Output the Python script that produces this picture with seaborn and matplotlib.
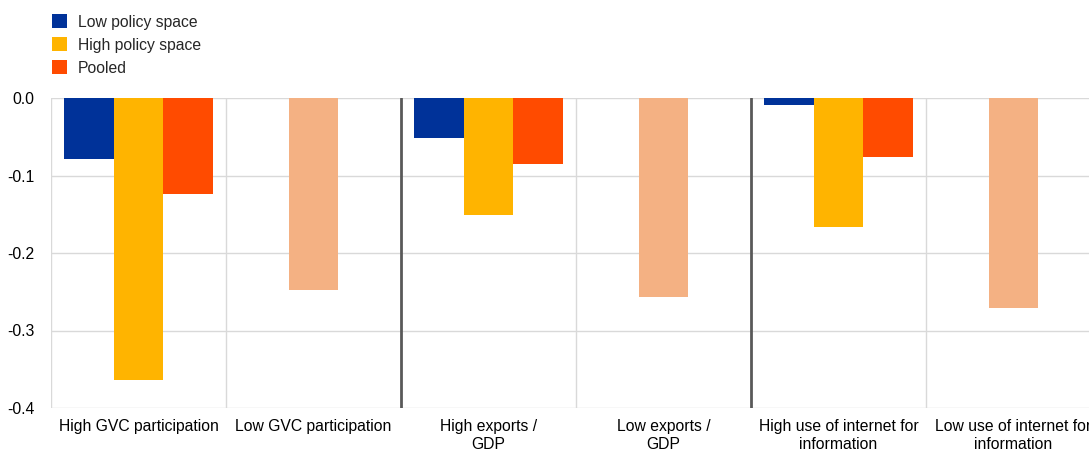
import matplotlib
matplotlib.use("Agg")
import matplotlib.pyplot as plt
from matplotlib.patches import Patch
from matplotlib.ticker import FuncFormatter, FixedLocator
import seaborn as sns
import pandas as pd
import numpy as np

categories = ["High GVC participation", "Low GVC participation",
              "High exports /\nGDP", "Low exports /\nGDP",
              "High use of internet for\ninformation", "Low use of internet for\ninformation"]
series = ["Low policy space", "High policy space", "Pooled"]
low_policy = [-0.079, np.nan, -0.052, np.nan, -0.009, np.nan]
high_policy = [-0.364, np.nan, -0.151, np.nan, -0.166, np.nan]
pooled = [-0.124, -0.248, -0.085, -0.257, -0.076, -0.271]

colors = {"Low policy space": "#003299", "High policy space": "#FFB400", "Pooled": "#FF4B00"}
pooled_low_color = "#F4B183"

rows = []
for i, c in enumerate(categories):
    is_low = (i % 2 == 1)
    for s, vals in zip(series, [low_policy, high_policy, pooled]):
        v = vals[i]
        # in "Low" categories the single pooled bar sits in the middle slot
        slot = s
        if is_low:
            if s == "Pooled":
                slot = "High policy space"
            elif s == "High policy space":
                continue
        rows.append({"category": c, "slot": slot, "value": v})
df = pd.DataFrame(rows)

sns.set_style("white")
plt.rcParams["font.family"] = ["Liberation Sans", "DejaVu Sans"]

FS = 11.3

fig = plt.figure(figsize=(10.89, 4.5), dpi=100)
ax = fig.add_axes([51 / 1089, 1 - 408 / 450, 1050 / 1089, 310 / 450])

sns.barplot(data=df, x="category", y="value", hue="slot", hue_order=series,
            order=categories, palette=colors, width=0.857, errorbar=None,
            saturation=1, legend=False, ax=ax)

for p in ax.patches:
    h = p.get_height()
    if h is None or np.isnan(h):
        continue
    cx = p.get_x() + p.get_width() / 2
    idx = int(round(cx))
    p.set_edgecolor("none")
    p.set_linewidth(0)
    if idx % 2 == 1:
        p.set_facecolor(pooled_low_color)

ax.set_ylim(-0.4, 0.0)
ax.set_xlim(-0.5, len(categories) - 0.5)
ax.set_yticks([0.0, -0.1, -0.2, -0.3, -0.4])
ax.yaxis.set_major_formatter(FuncFormatter(lambda v, p: f"{v:.1f}".replace("\u2212", "-") if abs(v) > 1e-9 else "0.0"))
ax.set_xlabel("")
ax.set_ylabel("")
for sp in ax.spines.values():
    sp.set_visible(False)
ax.set_axisbelow(True)
ax.grid(axis="y", color="#D9D9D9", lw=1)
ax.xaxis.set_minor_locator(FixedLocator([-0.5, 0.5, 2.5, 4.5]))
ax.grid(axis="x", which="minor", color="#D9D9D9", lw=1)
ax.grid(axis="x", which="major", visible=False)
for xv in [1.5, 3.5]:
    ax.axvline(xv, color="#595959", lw=2, zorder=3)
ax.tick_params(axis="both", which="both", length=0, labelsize=FS, colors="black")
ax.tick_params(axis="y", pad=12)
ax.tick_params(axis="x", pad=8)

handles = [Patch(facecolor=colors[s], edgecolor="none", label=s) for s in series]
fig.legend(handles=handles, loc="upper left", bbox_to_anchor=(0.0478, 0.968),
           frameon=False, fontsize=FS, handlelength=0.95, handleheight=0.95,
           handletextpad=0.7, labelspacing=0.5, borderaxespad=0, borderpad=0)

fig.savefig("out.png", dpi=100)
